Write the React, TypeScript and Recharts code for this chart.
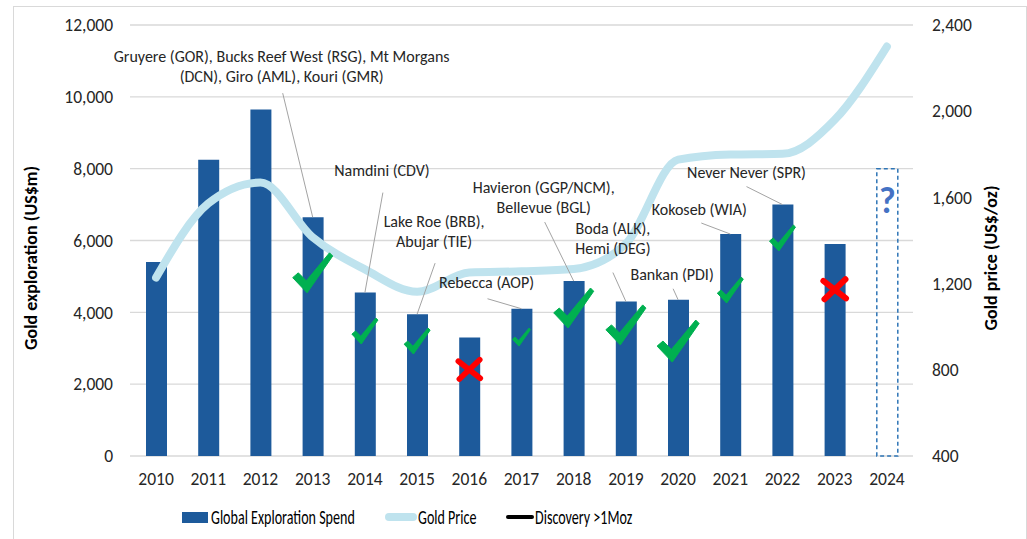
import React from "react";
import { ComposedChart, Bar, Line, XAxis, YAxis, CartesianGrid, Legend, ReferenceDot, LabelList } from "recharts";

const years = ["2010", "2011", "2012", "2013", "2014", "2015", "2016", "2017", "2018", "2019", "2020", "2021", "2022", "2023", "2024"];
// global gold exploration spend, US$m
const spend = [5400, 8250, 9650, 6650, 4550, 3950, 3300, 4100, 4870, 4300, 4350, 6180, 7000, 5900, null];
// 2024 placeholder (dashed box)
const spendPending = [null, null, null, null, null, null, null, null, null, null, null, null, null, null, 8000];
// gold price, US$/oz
const goldPrice = [1228, 1572, 1669, 1415, 1266, 1162, 1251, 1257, 1268, 1385, 1775, 1799, 1802, 1960, 2300];

const leftTicks = [0, 2000, 4000, 6000, 8000, 10000, 12000];
const rightTicks = [400, 800, 1200, 1600, 2000, 2400];

// >1Moz discoveries per year
const discoveries = [
  [],
  [],
  [],
  ["Gruyere (GOR), Bucks Reef West (RSG), Mt Morgans", "(DCN), Giro (AML), Kouri (GMR)"],
  ["Namdini (CDV)"],
  ["Lake Roe (BRB),", "Abujar (TIE)"],
  [],
  ["Rebecca (AOP)"],
  ["Havieron (GGP/NCM),", "Bellevue (BGL)"],
  ["Boda (ALK),", "Hemi (DEG)"],
  ["Bankan (PDI)"],
  ["Kokoseb (WIA)"],
  ["Never Never (SPR)"],
  [],
  [],
];
// tick = discoveries made, cross = none
const outcome = [null, null, null, "tick", "tick", "tick", "cross", "tick", "tick", "tick", "tick", "tick", "tick", "cross", null];
const outcomeLevel = [null, null, null, 5100, 3480, 3200, 2420, 3310, 4120, 3650, 3200, 4620, 6070, 4650, null];

// callout placement relative to bar top (px): text centre, leader start
const calloutPos: Record<string, { tx: number; ty: number; lx: number; ly: number }> = {
  "2013": { tx: -31, ty: -159, lx: -30, ly: -124 },
  "2014": { tx: 17, ty: -120, lx: 18, ly: -100 },
  "2015": { tx: 17, ty: -91, lx: 18, ly: -51 },
  "2017": { tx: -35, ty: -25, lx: -34, ly: -10 },
  "2018": { tx: -30, ty: -92, lx: -29, ly: -59 },
  "2019": { tx: -13, ty: -71, lx: -13, ly: -29 },
  "2020": { tx: -6, ty: -24, lx: -5, ly: -11 },
  "2021": { tx: -31, ty: -23, lx: -29, ly: -11 },
  "2022": { tx: -36, ty: -30, lx: -36, ly: -18 },
};
const markSize: Record<string, number> = {
  "2013": 40, "2014": 26, "2015": 26, "2016": 26, "2017": 18, "2018": 40,
  "2019": 40, "2020": 42, "2021": 26, "2022": 26, "2023": 27,
};

const data = years.map((year, i) => ({ year, spend: spend[i], pending: spendPending[i], gold: goldPrice[i] }));

const FONT = "Carlito, Calibri, Lato, 'Open Sans', sans-serif";
const TEXT = "#262626";
const BLUE = "#1d5a9b";
const GOLD = "#bfe3ee";

const fmt = (v: number) => v.toLocaleString("en-US");

const Callout = (props: any) => {
  const { cx, cy, lines, pos } = props;
  if (cx == null || cy == null) return null;
  return (
    <g>
      <line x1={cx + pos.lx} y1={cy + pos.ly} x2={cx} y2={cy} stroke="#a3a3a3" strokeWidth={1} />
      {lines.map((t: string, i: number) => (
        <text key={i} x={cx + pos.tx} y={cy + pos.ty + i * 20} textAnchor="middle" dominantBaseline="middle"
          fontFamily={FONT} fontSize={16} fill={TEXT}>{t}</text>
      ))}
    </g>
  );
};

const Mark = (props: any) => {
  const { cx, cy, kind, size } = props;
  if (cx == null || cy == null) return null;
  const s = size;
  if (kind === "cross") {
    return (
      <g stroke="#ff0000" strokeWidth={s * 0.22} strokeLinecap="round">
        <line x1={cx - s * 0.42} y1={cy - s * 0.3} x2={cx + s * 0.42} y2={cy + s * 0.35} />
        <line x1={cx + s * 0.4} y1={cy - s * 0.36} x2={cx - s * 0.38} y2={cy + s * 0.38} />
      </g>
    );
  }
  const pts = [[-0.5, 0.12], [-0.36, 0.0], [-0.16, 0.2], [0.42, -0.5], [0.5, -0.42], [-0.14, 0.5]]
    .map(([x, y]) => `${cx + x * s},${cy + y * s}`).join(" ");
  return <polygon points={pts} fill="#00b050" stroke="#00b050" strokeWidth={1} strokeLinejoin="round" />;
};

const QuestionMark = (props: any) => {
  const { x, y, width, value } = props;
  if (value == null) return null;
  return (
    <text x={x + width / 2} y={y + 36} textAnchor="middle" dominantBaseline="middle" fontFamily={FONT}
      fontWeight="bold" fontSize={36} fill="#4472c4">?</text>
  );
};

const AxisTitle = (props: any) => {
  const { viewBox, value, dx } = props;
  const x = viewBox.x + dx;
  const y = 251;
  return (
    <text x={x} y={y} transform={`rotate(-90, ${x}, ${y})`} textAnchor="middle" dominantBaseline="middle"
      fontFamily={FONT} fontWeight="bold" fontSize={18} fill="#000">{value}</text>
  );
};

const legendText: React.CSSProperties = {
  position: "absolute", top: 1, fontSize: 21, lineHeight: "26px", display: "inline-block",
  transform: "scaleX(0.67)", transformOrigin: "left center", whiteSpace: "nowrap",
};

const LegendBox = () => (
  <div style={{ position: "relative", width: 1010, height: 30, fontFamily: FONT, color: "#000" }}>
    <div style={{ position: "absolute", left: 168, top: 9, width: 26, height: 11, background: BLUE }} />
    <span style={{ ...legendText, left: 197 }}>Global Exploration Spend</span>
    <div style={{ position: "absolute", left: 371, top: 10, width: 32, height: 8, borderRadius: 4, background: GOLD }} />
    <span style={{ ...legendText, left: 404 }}>Gold Price</span>
    <div style={{ position: "absolute", left: 492, top: 12, width: 28, height: 4, borderRadius: 2, background: "#000" }} />
    <span style={{ ...legendText, left: 521 }}>Discovery &gt;1Moz</span>
  </div>
);

export default function App() {
  return (
    <div style={{ position: "absolute", left: 13, top: 6, width: 1012, height: 534, border: "1px solid #d9d9d9", background: "#fff" }}>
      <ComposedChart width={1010} height={532} data={data} margin={{ top: 18, right: 0, left: 0, bottom: 6 }} barGap={0}>
        <CartesianGrid yAxisId="left" vertical={false} stroke="#d9d9d9" strokeWidth={1.3} />
        <XAxis dataKey="year" height={47} axisLine={false} tickLine={false} tickMargin={11}
          tick={{ fill: TEXT, fontSize: 17.5, fontFamily: FONT }} interval={0} />
        <YAxis yAxisId="left" orientation="left" width={116} domain={[0, 12000]} ticks={leftTicks}
          axisLine={false} tickLine={false} tickMargin={11} tickFormatter={fmt}
          tick={{ fill: TEXT, fontSize: 17.5, fontFamily: FONT }}
          label={<AxisTitle value="Gold exploration  (US$m)" dx={19} />} />
        <YAxis yAxisId="right" orientation="right" width={111} domain={[400, 2400]} ticks={rightTicks}
          axisLine={false} tickLine={false} tickMargin={13} tickFormatter={fmt}
          tick={{ fill: TEXT, fontSize: 17.5, fontFamily: FONT, textAnchor: "start" }}
          label={<AxisTitle value="Gold price (US$/oz)" dx={80} />} />
        <Legend verticalAlign="bottom" height={30} content={<LegendBox />} wrapperStyle={{ left: 0, width: 1010 }} />
        <Bar yAxisId="left" dataKey="spend" stackId="s" fill={BLUE} barSize={21} isAnimationActive={false} legendType="none" />
        <Bar yAxisId="left" dataKey="pending" stackId="s" fill="none" stroke="#2e75b6" strokeDasharray="4 3"
          strokeWidth={1.5} barSize={21} isAnimationActive={false} legendType="none">
          <LabelList dataKey="pending" content={<QuestionMark />} />
        </Bar>
        <Line yAxisId="right" dataKey="gold" type="monotone" stroke={GOLD} strokeWidth={8} strokeLinecap="round"
          dot={false} activeDot={false} isAnimationActive={false} legendType="none" />
        {years.map((y, i) =>
          discoveries[i].length && calloutPos[y] ? (
            <ReferenceDot key={"c" + y} yAxisId="left" x={y} y={spend[i] as number} r={0}
              shape={(p: any) => <Callout {...p} lines={discoveries[i]} pos={calloutPos[y]} />} />
          ) : null
        )}
        {years.map((y, i) =>
          outcome[i] ? (
            <ReferenceDot key={"m" + y} yAxisId="left" x={y} y={outcomeLevel[i] as number} r={0}
              shape={(p: any) => <Mark {...p} kind={outcome[i]} size={markSize[y]} />} />
          ) : null
        )}
      </ComposedChart>
    </div>
  );
}
